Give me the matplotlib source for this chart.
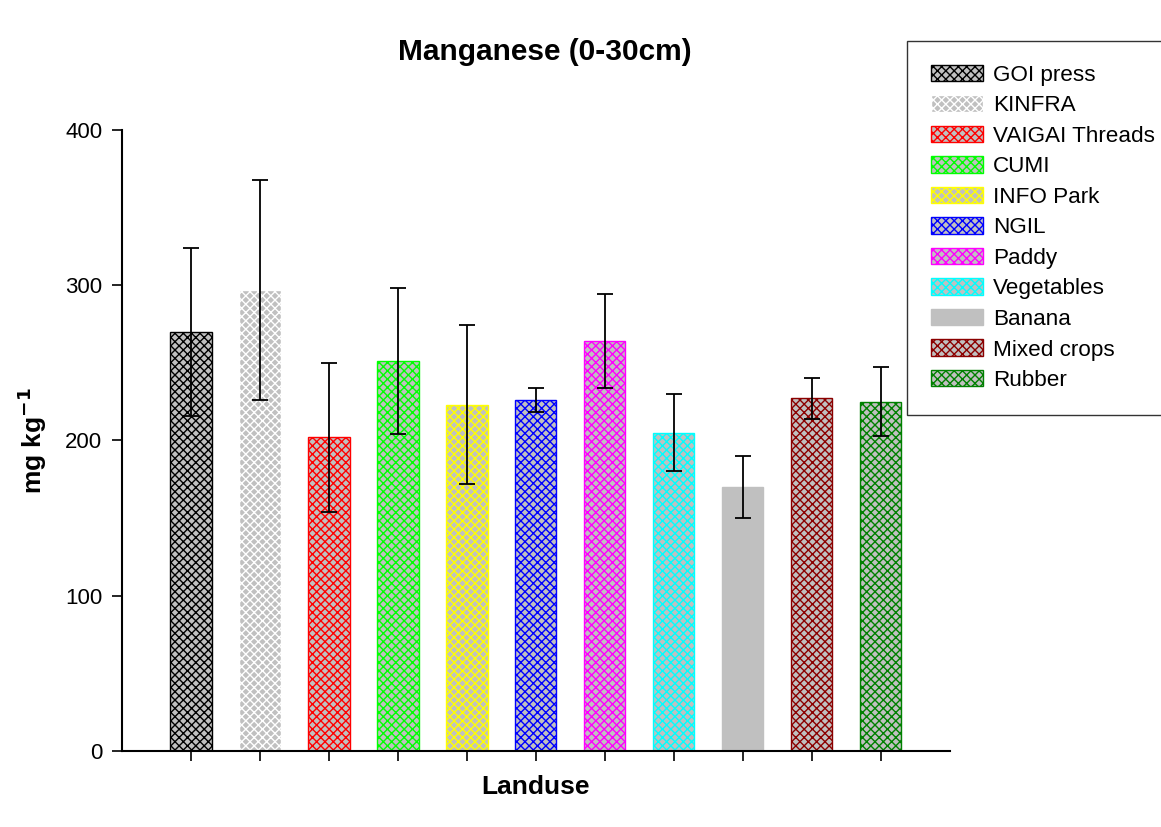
import matplotlib.pyplot as plt

plt.rcParams['font.family'] = ['Liberation Sans', 'DejaVu Sans']
plt.rcParams['hatch.linewidth'] = 1.0

landuse = ['GOI press', 'KINFRA', 'VAIGAI Threads', 'CUMI', 'INFO Park', 'NGIL',
           'Paddy', 'Vegetables', 'Banana', 'Mixed crops', 'Rubber']
mn_mean = [270, 297, 202, 251, 223, 226, 264, 205, 170, 227, 225]
mn_err = [54, 71, 48, 47, 51, 8, 30, 25, 20, 13, 22]
hatch_colors = ['black', 'white', 'red', 'lime', 'yellow', 'blue',
                'magenta', 'cyan', 'silver', 'darkred', 'green']
hatches = ['xxxx'] * 8 + [''] + ['xxxx'] * 2

fig = plt.figure(figsize=(11.61, 8.27), dpi=100)
ax = fig.add_axes([0.105, 0.092, 0.713, 0.751])

for i, name in enumerate(landuse):
    ax.bar(i, mn_mean[i], width=0.6, color='silver', edgecolor=hatch_colors[i],
           hatch=hatches[i], linewidth=1, label=name)
ax.errorbar(range(len(landuse)), mn_mean, yerr=mn_err, fmt='none', ecolor='black',
            elinewidth=1.3, capsize=6, capthick=1.3)

ax.set_xlim(-1, 11)
ax.set_ylim(0, 400)
ax.set_yticks([0, 100, 200, 300, 400])
ax.set_xticks(range(len(landuse)))
ax.set_xticklabels([])
ax.spines['top'].set_visible(False)
ax.spines['right'].set_visible(False)
ax.spines['left'].set_linewidth(1.5)
ax.spines['bottom'].set_linewidth(1.5)
ax.tick_params(direction='out', length=7, width=1.2, pad=7, labelsize=16)

ax.set_title('Manganese (0-30cm)', fontsize=21.5, fontweight='bold', pad=50, x=0.511)
ax.set_ylabel('mg kg$^{\\mathbf{-1}}$', fontsize=19, fontweight='bold', labelpad=12)
ax.set_xlabel('Landuse', fontsize=19, fontweight='bold', labelpad=3)

leg = fig.legend(loc='upper left', bbox_to_anchor=(0.781, 0.951), fontsize=16.2,
                 frameon=True, fancybox=False, edgecolor='black', handlelength=2.3,
                 handleheight=0.75, labelspacing=0.42, borderpad=1.07,
                 handletextpad=0.45, borderaxespad=0)
leg.get_frame().set_linewidth(1)

fig.savefig('out.png', dpi=100)
